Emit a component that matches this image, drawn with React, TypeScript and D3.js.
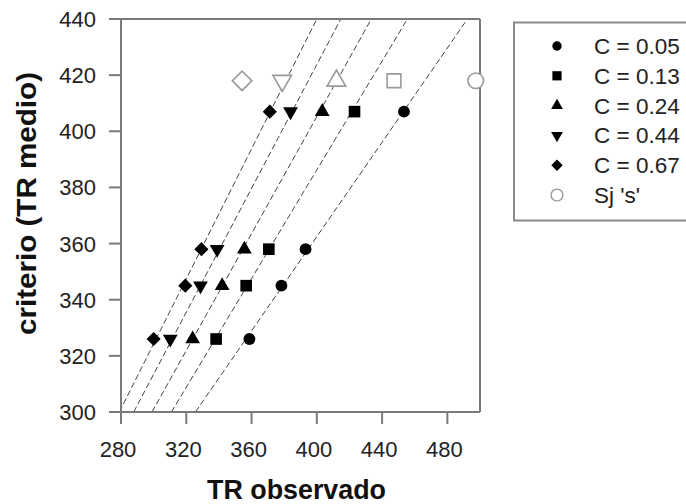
import React, { useEffect } from 'react';
import * as d3 from 'd3';

// criterio (TR medio) levels shared by all series
const yLevels = [326, 345, 358, 407];

const seriesNames = ['C = 0.05', 'C = 0.13', 'C = 0.24', 'C = 0.44', 'C = 0.67'];
const seriesShapes = ['circle', 'square', 'triangle', 'invtriangle', 'diamond'];

// TR observado per series, one per level
const xC005 = [358.7, 378.3, 393.1, 453.4];
const xC013 = [338.3, 356.7, 370.6, 423.1];
const xC024 = [323.9, 342.0, 355.6, 403.3];
const xC044 = [310.2, 328.7, 338.9, 383.9];
const xC067 = [300.0, 319.4, 329.3, 371.2];
const seriesX = [xC005, xC013, xC024, xC044, xC067];

// fitted lines: x at criterio = 300 and at criterio = 440
const lineX300 = [325.6, 310.9, 299.0, 287.8, 279.0];
const lineX440 = [492.3, 455.5, 433.4, 414.7, 400.0];

// Sj 's' values (open symbols)
const sjX = [497.4, 447.3, 412.0, 378.8, 354.2];
const sjY = 418;

const xTicks = [280, 320, 360, 400, 440, 480];
const yTicks = [300, 320, 340, 360, 380, 400, 420, 440];

const W = 686;
const H = 504;
const font = '"Liberation Sans", Arial, sans-serif';

function symbolPath(shape: string, size: number) {
  if (shape === 'circle') return d3.symbol(d3.symbolCircle, size)();
  if (shape === 'square') return d3.symbol(d3.symbolSquare, size)();
  if (shape === 'triangle' || shape === 'invtriangle') return d3.symbol(d3.symbolTriangle, size)();
  return d3.symbol(d3.symbolSquare, size)();
}

function symbolRotate(shape: string) {
  if (shape === 'invtriangle') return 180;
  if (shape === 'diamond') return 45;
  return 0;
}

export default function App() {
  useEffect(() => {
    document.body.style.margin = '0';
    document.body.style.overflow = 'hidden';
  }, []);

  const x = d3.scaleLinear().domain([280, 500]).range([121, 480]);
  const y = d3.scaleLinear().domain([300, 440]).range([412, 19]);
  const [x0, x1] = x.range();
  const [y0, y1] = y.range();

  const filledSize: Record<string, number> = { circle: 110, square: 135, triangle: 95, invtriangle: 95, diamond: 100 };
  const openSize: Record<string, number> = { circle: 190, square: 190, triangle: 150, invtriangle: 150, diamond: 190 };
  const legendSize: Record<string, number> = { circle: 70, square: 85, triangle: 60, invtriangle: 60, diamond: 65 };

  const axisColor = '#7a7a7a';
  const legendY = d3.scaleLinear().domain([0, 5]).range([46, 195]);

  return (
    <svg width={W} height={H} style={{ display: 'block', background: '#fff' }}>
      <defs>
        <clipPath id="plotClip">
          <rect x={x0} y={y1} width={x1 - x0} height={y0 - y1} />
        </clipPath>
      </defs>

      {/* fitted dashed lines */}
      <g clipPath="url(#plotClip)">
        {lineX300.map((lx, i) => (
          <line
            key={'l' + i}
            x1={x(lx)}
            y1={y(300)}
            x2={x(lineX440[i])}
            y2={y(440)}
            stroke="#444"
            strokeWidth={1}
            strokeDasharray="6,3"
          />
        ))}
      </g>

      {/* frame */}
      <g stroke={axisColor} strokeWidth={2} fill="none">
        <line x1={x0} y1={y1} x2={x0} y2={y0 + 12} />
        <line x1={x0 - 12} y1={y0} x2={x1} y2={y0} />
        <line x1={x0} y1={y1} x2={x1} y2={y1} />
        <line x1={x1} y1={y1} x2={x1} y2={y0} />
        {yTicks.map(t => (
          <line key={'yt' + t} x1={x0 - 12} x2={x0} y1={y(t)} y2={y(t)} />
        ))}
        {xTicks.map(t => (
          <line key={'xt' + t} x1={x(t)} x2={x(t)} y1={y0} y2={y0 + 12} />
        ))}
      </g>

      {/* tick labels */}
      <g fontFamily={font} fontSize={22} fill="#222">
        {yTicks.map(t => (
          <text key={'yl' + t} x={x0 - 25} y={y(t) + 8} textAnchor="end">{t}</text>
        ))}
        {xTicks.map(t => (
          <text key={'xl' + t} x={x(t) - 3} y={457} textAnchor="middle">{t}</text>
        ))}
      </g>

      {/* axis titles */}
      <text
        x={296.5}
        y={499}
        textAnchor="middle"
        fontFamily={font}
        fontWeight="bold"
        fontSize={27}
        fill="#111"
        textLength={179}
        lengthAdjust="spacingAndGlyphs"
      >
        TR observado
      </text>
      <text
        transform="translate(36,203.5) rotate(-90)"
        textAnchor="middle"
        fontFamily={font}
        fontWeight="bold"
        fontSize={27}
        fill="#111"
        textLength={263}
        lengthAdjust="spacingAndGlyphs"
      >
        criterio (TR medio)
      </text>

      {/* filled data points */}
      {seriesX.map((xs, si) => (
        <g key={'s' + si}>
          {xs.map((v, j) => (
            <path
              key={j}
              d={symbolPath(seriesShapes[si], filledSize[seriesShapes[si]]) || ''}
              transform={`translate(${x(v)},${y(yLevels[j])}) rotate(${symbolRotate(seriesShapes[si])})`}
              fill="#000"
            />
          ))}
        </g>
      ))}

      {/* open Sj points */}
      {sjX.map((v, si) => (
        <path
          key={'sj' + si}
          d={symbolPath(seriesShapes[si], openSize[seriesShapes[si]]) || ''}
          transform={`translate(${x(v)},${y(sjY)}) rotate(${symbolRotate(seriesShapes[si])})`}
          fill="#fff"
          stroke="#9a9a9a"
          strokeWidth={1.6}
        />
      ))}

      {/* legend, right side runs off the picture */}
      <rect x={514} y={22.5} width={300} height={198} fill="#fff" stroke="#8a8a8a" strokeWidth={2} />
      <g fontFamily={font} fontSize={22.5} fill="#222">
        {seriesNames.map((name, i) => (
          <g key={'lg' + i}>
            <path
              d={symbolPath(seriesShapes[i], legendSize[seriesShapes[i]]) || ''}
              transform={`translate(557,${legendY(i)}) rotate(${symbolRotate(seriesShapes[i])})`}
              fill="#000"
            />
            <text x={594} y={legendY(i) + 8}>{name}</text>
          </g>
        ))}
        <path
          d={symbolPath('circle', 110) || ''}
          transform={`translate(557,${legendY(5)})`}
          fill="#fff"
          stroke="#9a9a9a"
          strokeWidth={1.4}
        />
        <text x={594} y={legendY(5) + 8}>Sj 's'</text>
      </g>
    </svg>
  );
}
